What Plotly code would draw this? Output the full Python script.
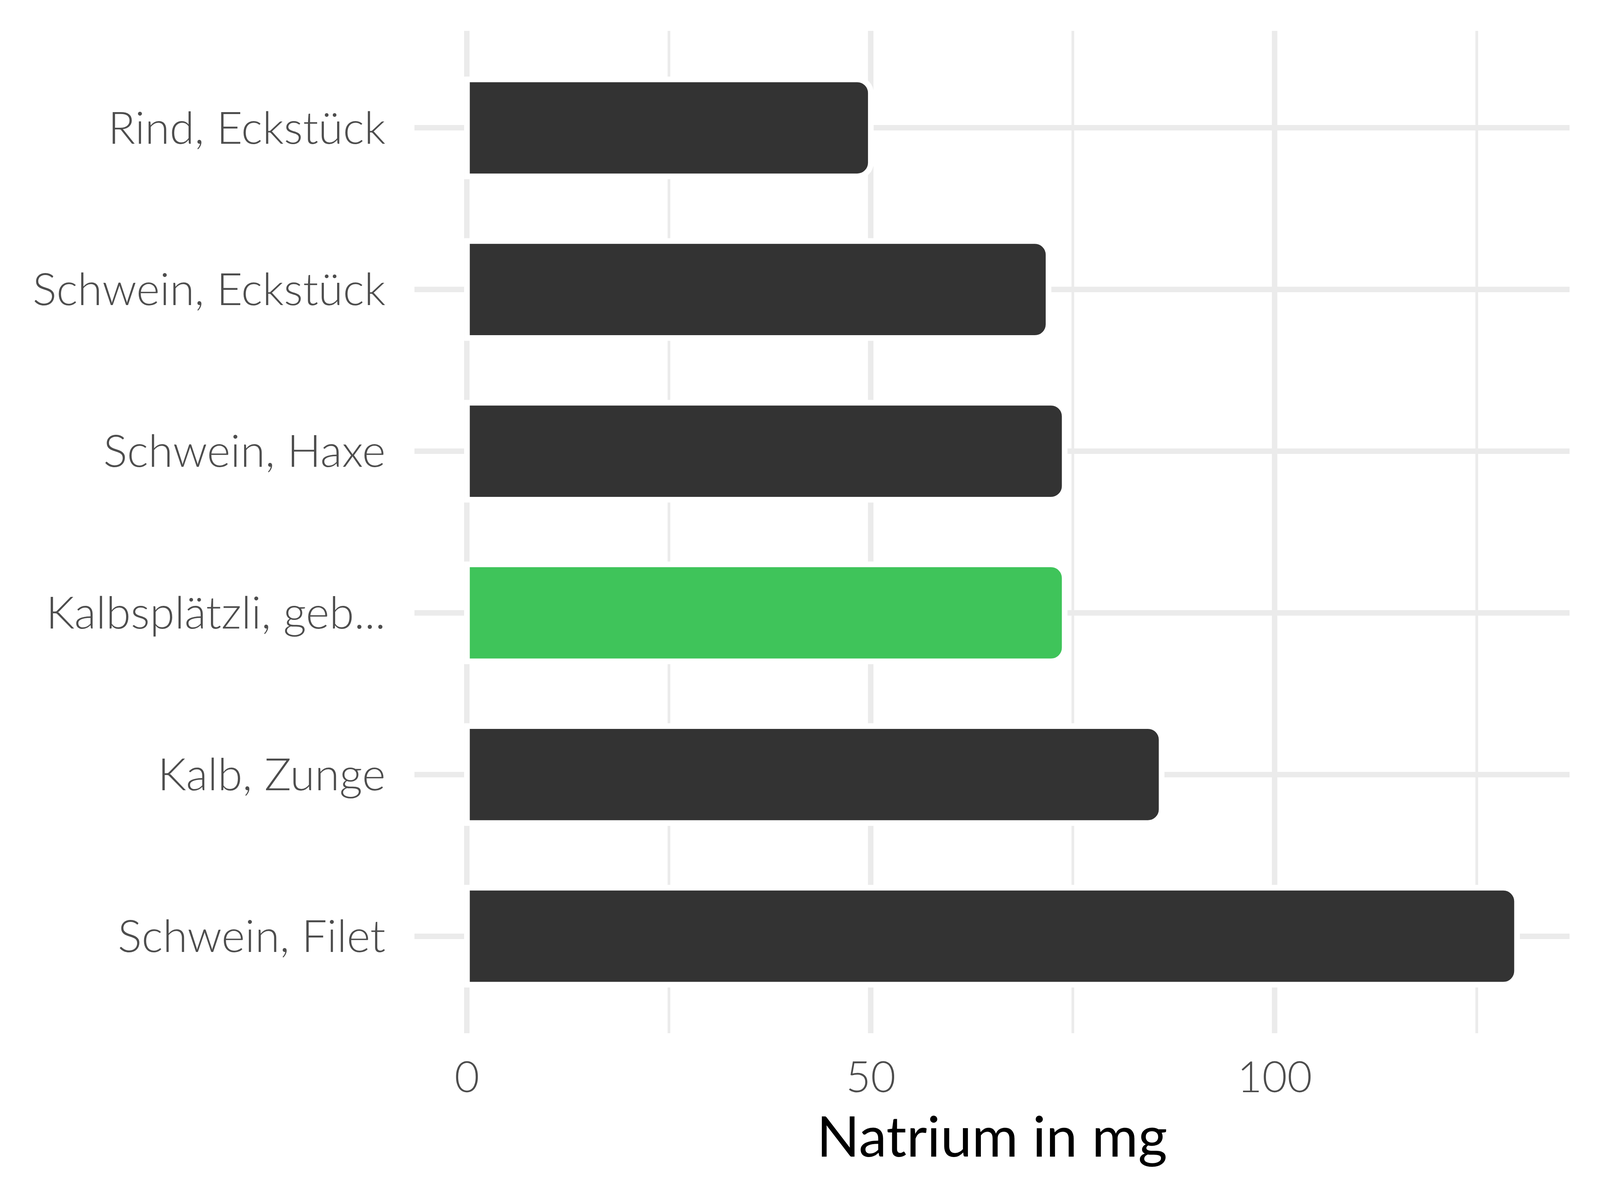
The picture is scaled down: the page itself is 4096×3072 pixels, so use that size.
import plotly.graph_objects as go

categories = ["Rind, Eckstück", "Schwein, Eckstück", "Schwein, Haxe",
              "Kalbsplätzli, geb...", "Kalb, Zunge", "Schwein, Filet"]
values = [50, 72, 74, 74, 86, 130]
highlight = "Kalbsplätzli, geb..."
x_ticks = [0, 50, 100]
x_tick_labels = ["0", "50", "100"]
x_title = "Natrium in mg"

DARK = "#333333"
GREEN = "#3fc45a"
colors = [GREEN if c == highlight else DARK for c in categories]

W, H = 4096, 3072
FONT = "Lato"

fig = go.Figure(go.Bar(
    x=values, y=categories, orientation="h",
    width=0.6,
    marker=dict(color=colors, line=dict(color="white", width=14.5), cornerradius=35),
    hoverinfo="skip",
))

fig.update_layout(
    width=W, height=H,
    paper_bgcolor="white", plot_bgcolor="white",
    margin=dict(l=1053, r=86, t=71, b=435, pad=0),
    showlegend=False,
    font=dict(family=FONT, color="#4d4d4d", size=108),
    bargap=0.4,
)

fig.update_xaxes(
    range=[-6.5, 136.5],
    tickmode="array", tickvals=x_ticks, ticktext=x_tick_labels,
    showgrid=True, gridcolor="#ebebeb", gridwidth=13.6,
    minor=dict(dtick=25, tick0=0, showgrid=True, gridcolor="#ebebeb", gridwidth=6.8, ticks=""),
    zeroline=False, showline=False, ticks="",
    tickfont=dict(family=FONT, size=110, color="#4d4d4d", weight=300),
    ticklabelstandoff=40,
    title=dict(text=x_title, font=dict(family=FONT, size=144, color="black", weight=400), standoff=32),
)

fig.update_yaxes(
    type="category",
    categoryorder="array", categoryarray=categories,
    range=[5.6, -0.6],
    showgrid=True, gridcolor="#ebebeb", gridwidth=13.6,
    zeroline=False, showline=False, ticks="",
    tickfont=dict(family=FONT, size=115, color="#4d4d4d", weight=300),
    ticklabelstandoff=73,
)

fig.write_html("out.html")
